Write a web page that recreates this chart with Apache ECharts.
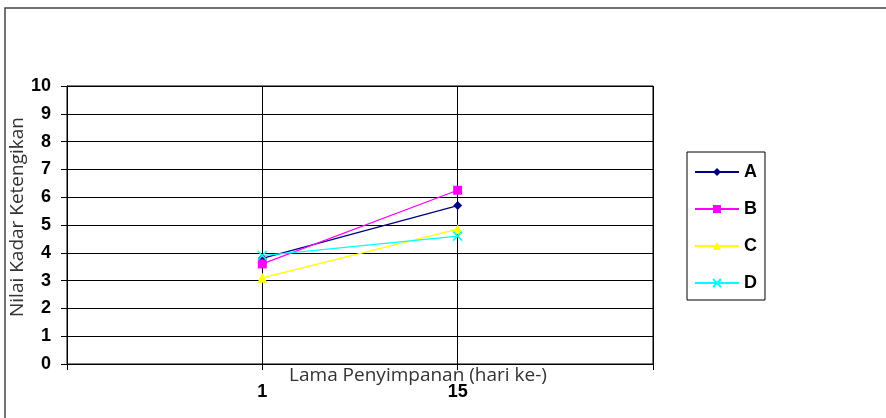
<!DOCTYPE html>
<html>
<head>
<meta charset="utf-8">
<script src="https://cdn.jsdelivr.net/npm/echarts@6/dist/echarts.min.js"></script>
<style>
  html, body { margin: 0; padding: 0; background: #fff; }
  #chart { width: 886px; height: 418px; }
</style>
</head>
<body>
<div id="chart"></div>
<script>
// data
const categories = ['', '1', '15', '']
const seriesA = [null, 3.8, 5.7, null]
const seriesB = [null, 3.6, 6.25, null]
const seriesC = [null, 3.1, 4.85, null]
const seriesD = [null, 3.9, 4.6, null]
const yTicks = [0, 10, 1] // min, max, interval

const labelFont = 'Liberation Sans, Arial, sans-serif'
const nameFont = 'Open Sans, sans-serif'

const chart = echarts.init(document.getElementById('chart'))

function lineSeries(name, data, color, symbol, size, extra) {
  return Object.assign({
    name: name,
    type: 'line',
    data: data,
    symbol: symbol,
    symbolSize: size,
    showSymbol: true,
    connectNulls: false,
    animation: false,
    lineStyle: { color: color, width: 1.3 },
    itemStyle: { color: color }
  }, extra || {})
}

chart.setOption({
  animation: false,
  grid: {
    left: 67,
    top: 86,
    width: 586,
    height: 278,
    show: true,
    borderColor: '#000',
    borderWidth: 1
  },
  legend: {
    orient: 'vertical',
    left: 687,
    top: 152,
    width: 81,
    padding: [11, 8, 8, 7],
    itemWidth: 44,
    itemHeight: 10,
    itemGap: 19,
    borderColor: '#000',
    borderWidth: 1,
    textStyle: { fontFamily: labelFont, fontWeight: 'bold', fontSize: 18, color: '#000' },
    data: ['A', 'B', 'C', 'D']
  },
  xAxis: {
    type: 'category',
    data: categories,
    boundaryGap: false,
    axisLine: { lineStyle: { color: '#000', width: 1 } },
    axisTick: { show: true, interval: 0, length: 6, lineStyle: { color: '#000' } },
    axisLabel: {
      interval: 0,
      margin: 19,
      fontFamily: labelFont,
      fontWeight: 'bold',
      fontSize: 18,
      color: '#000'
    },
    splitLine: { show: true, interval: 0, lineStyle: { color: '#000', width: 1 } }
  },
  yAxis: {
    type: 'value',
    min: yTicks[0],
    max: yTicks[1],
    interval: yTicks[2],
    axisLine: { show: true, lineStyle: { color: '#000', width: 1 } },
    axisTick: { show: true, length: 6, lineStyle: { color: '#000' } },
    axisLabel: {
      margin: 16,
      fontFamily: labelFont,
      fontWeight: 'bold',
      fontSize: 18,
      color: '#000'
    },
    splitLine: { show: true, lineStyle: { color: '#000', width: 1 } }
  },
  graphic: [
    {
      type: 'rect',
      shape: { x: 5, y: 8, width: 900, height: 420 },
      style: { fill: 'none', stroke: '#444', lineWidth: 1.5 },
      silent: true
    },
    {
      type: 'text',
      x: 18,
      y: 217,
      rotation: Math.PI / 2,
      style: {
        text: 'Nilai Kadar Ketengikan',
        fontFamily: nameFont,
        fontSize: 19,
        fill: '#333',
        align: 'center',
        verticalAlign: 'middle'
      }
    },
    {
      type: 'text',
      x: 418,
      y: 376,
      style: {
        text: 'Lama Penyimpanan (hari ke-)',
        fontFamily: nameFont,
        fontSize: 19,
        fill: '#333',
        align: 'center',
        verticalAlign: 'middle'
      }
    }
  ],
  series: [
    lineSeries('A', seriesA, '#000080', 'diamond', 9),
    lineSeries('B', seriesB, '#FF00FF', 'rect', 9),
    lineSeries('C', seriesC, '#FFFF00', 'triangle', 10),
    lineSeries('D', seriesD, '#00FFFF', 'path://M0,0L10,10M10,0L0,10', 9, {
      itemStyle: { color: 'none', borderColor: '#00FFFF', borderWidth: 1.5 }
    })
  ]
})
</script>
</body>
</html>
